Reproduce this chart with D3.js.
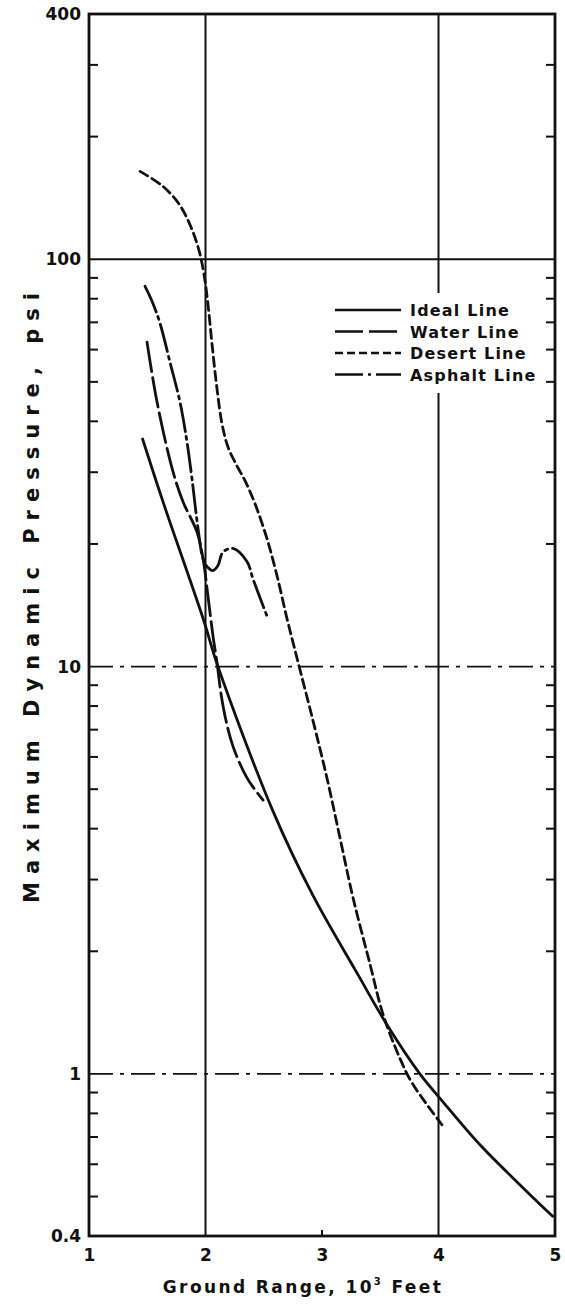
<!DOCTYPE html>
<html>
<head>
<meta charset="utf-8">
<script src="https://cdn.jsdelivr.net/npm/d3@7"></script>
<style>
  html, body { margin: 0; padding: 0; background: #fff; }
  svg { display: block; }
  text { font-family: "DejaVu Sans", sans-serif; font-weight: bold; fill: #111; }
</style>
</head>
<body>
<svg id="chart" width="565" height="1306"></svg>
<script>
// Ground range (10^3 ft) and maximum dynamic pressure (psi) for each surface
const idealRange    = [1.46, 1.635, 1.98, 2.107, 2.58, 2.92, 3.31, 3.558, 3.84, 4.04, 4.356, 4.70, 4.98];
const idealPressure = [36.2, 25.4, 13.1, 10.0, 4.41, 2.75, 1.75, 1.32, 1.0, 0.853, 0.67, 0.534, 0.447];

const waterRange    = [1.498, 1.584, 1.721, 1.807, 1.927, 1.979, 2.021, 2.064, 2.099, 2.133, 2.176, 2.236, 2.356, 2.494];
const waterPressure = [62.6, 44.6, 30.1, 25.4, 21.4, 18.4, 14.9, 11.9, 10.2, 8.58, 7.37, 6.37, 5.33, 4.70];

const desertRange    = [1.438, 1.635, 1.781, 1.876, 1.944, 1.987, 2.021, 2.056, 2.099, 2.142, 2.193, 2.262, 2.339, 2.425, 2.528, 2.614, 2.700, 2.785, 2.923, 3.043, 3.155, 3.266, 3.412, 3.524, 3.670, 3.773, 4.030];
const desertPressure = [164.3, 151, 135.6, 119.8, 105.2, 91.9, 77.6, 61.9, 48.0, 39.4, 34.6, 31.4, 28.6, 25.1, 20.6, 16.7, 13.1, 10.5, 7.36, 5.32, 3.79, 2.71, 1.86, 1.40, 1.09, 0.95, 0.75];

const asphaltRange    = [1.481, 1.541, 1.609, 1.695, 1.781, 1.841, 1.884, 1.936, 1.979, 2.021, 2.064, 2.107, 2.150, 2.236, 2.356, 2.408, 2.528];
const asphaltPressure = [85.8, 78.9, 69.7, 55.9, 44.6, 35.6, 28.9, 21.8, 18.4, 17.5, 17.2, 17.7, 19.1, 19.5, 18.1, 16.4, 13.3];

const xTickValues = [1, 2, 3, 4, 5];
const yTickValues = [0.4, 1, 10, 100, 400];
const yTickLabels = ["0.4", "1", "10", "100", "400"];
const yMinorTicks = [0.5, 0.6, 0.7, 0.8, 0.9, 2, 3, 4, 5, 6, 7, 8, 9, 20, 30, 40, 50, 60, 70, 80, 90, 200, 300];
const legendLabels = ["Ideal Line", "Water Line", "Desert Line", "Asphalt Line"];

const seriesDash = ["none", "30,6", "9,5", "28,5,3,5"];
const legendDash = ["none", "28,6", "8,4", "28,5,3,5"];

const margin = { top: 14, right: 10, bottom: 70, left: 89 };
const width = 565, height = 1306;

const svg = d3.select("#chart");
const x = d3.scaleLinear().domain([1, 5]).range([margin.left, width - margin.right]);
const y = d3.scaleLog().domain([0.4, 400]).range([height - margin.bottom, margin.top]);

const x0 = x(1), x1 = x(5), y0 = y(0.4), y1 = y(400);

// Grid lines
const grid = svg.append("g").attr("stroke", "#111").attr("fill", "none");
[2, 4].forEach(v => {
  grid.append("line").attr("x1", x(v)).attr("x2", x(v)).attr("y1", y1).attr("y2", y0).attr("stroke-width", 2);
});
grid.append("line").attr("x1", x0).attr("x2", x1).attr("y1", y(100)).attr("y2", y(100)).attr("stroke-width", 2);
[10, 1].forEach(v => {
  grid.append("line").attr("x1", x0).attr("x2", x1).attr("y1", y(v)).attr("y2", y(v))
    .attr("stroke-width", 1.8).attr("stroke-dasharray", "24,7,4,7");
});

// Curves
const lineGen = d3.line().x(d => x(d[0])).y(d => y(d[1])).curve(d3.curveCatmullRom.alpha(0.5));
const series = [
  [idealRange, idealPressure],
  [waterRange, waterPressure],
  [desertRange, desertPressure],
  [asphaltRange, asphaltPressure]
];
series.forEach((s, i) => {
  const pts = s[0].map((r, j) => [r, s[1][j]]);
  svg.append("path").datum(pts).attr("d", lineGen)
    .attr("fill", "none").attr("stroke", "#111").attr("stroke-width", 2.8)
    .attr("stroke-linecap", "round")
    .attr("stroke-dasharray", seriesDash[i]);
});

// Legend
const lg = svg.append("g");
lg.append("rect").attr("x", 328).attr("y", 293).attr("width", 215).attr("height", 100).attr("fill", "#fff");
legendLabels.forEach((lab, i) => {
  const ly = 310 + i * 21.5;
  lg.append("line").attr("x1", 335).attr("x2", 401).attr("y1", ly).attr("y2", ly)
    .attr("stroke", "#111").attr("stroke-width", 2.4)
    .attr("stroke-dasharray", legendDash[i]);
  lg.append("text").attr("x", 410).attr("y", ly + 6).attr("font-size", 16)
    .attr("letter-spacing", 1.2).text(lab);
});

// Frame
svg.append("rect").attr("x", x0).attr("y", y1).attr("width", x1 - x0).attr("height", y0 - y1)
  .attr("fill", "none").attr("stroke", "#111").attr("stroke-width", 2.8);

// Minor ticks on both sides, pointing inward
const ticks = svg.append("g").attr("stroke", "#111").attr("stroke-width", 2);
yMinorTicks.forEach(v => {
  ticks.append("line").attr("x1", x0).attr("x2", x0 + 9).attr("y1", y(v)).attr("y2", y(v));
  ticks.append("line").attr("x1", x1 - 9).attr("x2", x1).attr("y1", y(v)).attr("y2", y(v));
});
ticks.append("line").attr("x1", x(3)).attr("x2", x(3)).attr("y1", y0).attr("y2", y0 - 6);

// Tick labels via d3 axes
const yAxis = d3.axisLeft(y).tickValues(yTickValues).tickFormat((d, i) => yTickLabels[i]).tickSize(0).tickPadding(8);
const gy = svg.append("g").attr("transform", `translate(${x0},0)`).call(yAxis);
gy.select(".domain").remove();
gy.selectAll("text").attr("font-size", 17).attr("font-family", "DejaVu Sans, sans-serif")
  .attr("font-weight", "bold").attr("fill", "#111");

const xAxis = d3.axisBottom(x).tickValues(xTickValues).tickFormat(d3.format("d")).tickSize(0).tickPadding(13);
const gx = svg.append("g").attr("transform", `translate(0,${y0})`).call(xAxis);
gx.select(".domain").remove();
gx.selectAll("text").attr("font-size", 17).attr("font-family", "DejaVu Sans, sans-serif")
  .attr("font-weight", "bold").attr("fill", "#111");

// Axis titles
const xt = svg.append("text").attr("x", 303).attr("y", 1293).attr("text-anchor", "middle")
  .attr("font-size", 17).attr("letter-spacing", 2.4);
xt.append("tspan").text("Ground  Range,  10");
xt.append("tspan").attr("dy", -8).attr("font-size", 10).text("3");
xt.append("tspan").attr("dy", 8).text(" Feet");

svg.append("text").attr("transform", "translate(39,598) rotate(-90)").attr("text-anchor", "middle")
  .attr("font-size", 21).attr("textLength", 610).attr("lengthAdjust", "spacing")
  .text("Maximum   Dynamic   Pressure,   psi");
</script>
</body>
</html>
